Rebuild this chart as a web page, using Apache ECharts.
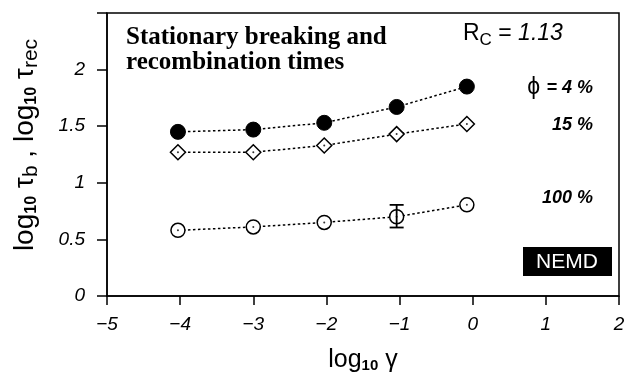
<!DOCTYPE html>
<html><head><meta charset="utf-8">
<script src="https://cdn.jsdelivr.net/npm/echarts@6/dist/echarts.min.js"></script>
<style>html,body{margin:0;padding:0;background:#fff}#c{width:628px;height:372px}</style>
</head><body><div id="c"></div>
<script>
const xVals = [-4.03, -3.0, -2.03, -1.04, -0.08];
const phi4 = [1.45, 1.47, 1.53, 1.67, 1.85];
const phi15 = [1.27, 1.27, 1.33, 1.43, 1.52];
const phi100 = [0.58, 0.61, 0.65, 0.70, 0.805];
const errX = [-1.04];
const errLow = [0.605];
const errHigh = [0.805];
const xTicks = [-5, -4, -3, -2, -1, 0, 1, 2];
const yTicks = [0, 0.5, 1, 1.5, 2];

const pairs = a => xVals.map((x, i) => [x, a[i]]);
const font = 'Liberation Sans, Arial, sans-serif';
const lineStyle = {color: '#000', width: 1.5, type: [2.5, 2.5]};

const chart = echarts.init(document.getElementById('c'), null, {renderer: 'canvas'});
chart.setOption({
  animation: false,
  grid: {left: 107, right: 9, top: 13, bottom: 76, show: true, borderColor: '#000', borderWidth: 1.5,
         containLabel: false, outerBoundsMode: 'none'},
  xAxis: {
    type: 'value', min: -5, max: 2, interval: 1,
    axisLine: {onZero: false, lineStyle: {color: '#000', width: 1.5}},
    axisTick: {length: 9, lineStyle: {color: '#000', width: 1.5}},
    splitLine: {show: false},
    axisLabel: {color: '#000', fontFamily: font, fontStyle: 'italic', fontSize: 19, margin: 19,
      formatter: v => xTicks.includes(v) ? String(v).replace('-', '\u2212') : ''},
    name: 'log{s|10} \u03b3', nameLocation: 'middle', nameGap: 51,
    nameTextStyle: {color: '#000', fontFamily: font, fontSize: 25,
      rich: {s: {fontSize: 15, fontWeight: 'bold', fontFamily: font, padding: [11, 0, 0, 0]}}}
  },
  yAxis: {
    type: 'value', min: 0, max: 2.5, interval: 0.5,
    axisLine: {onZero: false, lineStyle: {color: '#000', width: 1.5}},
    axisTick: {length: 10, lineStyle: {color: '#000', width: 1.5}},
    splitLine: {show: false},
    axisLabel: {color: '#000', fontFamily: font, fontStyle: 'italic', fontSize: 19, margin: 22,
      formatter: v => yTicks.includes(v) ? String(v) : ''}
  },
  graphic: [
    {type: 'text', x: 25, y: 145, rotation: Math.PI / 2,
     style: {text: 'log{s|10} \u03c4{s2|b} , log{s|10} \u03c4{s2|rec}', fill: '#000', fontFamily: font, fontSize: 28,
       align: 'center', verticalAlign: 'middle',
       rich: {s: {fontSize: 16, fontWeight: 'bold', fontFamily: font, padding: [14, 0, 0, 0]},
              s2: {fontSize: 21, fontFamily: font, padding: [12, 0, 0, 0]}}}},
    {type: 'text', x: 126, y: 25,
     style: {text: 'Stationary breaking and\nrecombination times', fill: '#000',
       fontFamily: 'Liberation Serif, serif', fontWeight: 'bold', fontSize: 25, lineHeight: 25}},
    {type: 'text', x: 463, y: 34,
     style: {text: 'R{sub|C} = {it|1.13}', fill: '#000', fontFamily: font, fontSize: 23, verticalAlign: 'middle',
       rich: {sub: {fontSize: 17, fontFamily: font, padding: [13, 0, 0, 0]},
              it: {fontStyle: 'italic', fontSize: 23, fontFamily: font}}}},
    {type: 'text', x: 593, y: 88,
     style: {text: '\u03d5 {b|= 4 %}', fill: '#000', fontFamily: font, fontSize: 23, align: 'right', verticalAlign: 'middle',
       rich: {b: {fontStyle: 'italic', fontWeight: 'bold', fontSize: 18, fontFamily: font}}}},
    {type: 'text', x: 593, y: 125,
     style: {text: '15 %', fill: '#000', fontFamily: font, fontSize: 18, fontStyle: 'italic', fontWeight: 'bold',
       align: 'right', verticalAlign: 'middle'}},
    {type: 'text', x: 593, y: 198,
     style: {text: '100 %', fill: '#000', fontFamily: font, fontSize: 18, fontStyle: 'italic', fontWeight: 'bold',
       align: 'right', verticalAlign: 'middle'}},
    {type: 'rect', shape: {x: 523, y: 247, width: 89, height: 29}, style: {fill: '#000'}},
    {type: 'text', x: 567, y: 262,
     style: {text: 'NEMD', fill: '#fff', fontFamily: font, fontSize: 21, align: 'center', verticalAlign: 'middle'}}
  ],
  series: [
    {type: 'line', data: pairs(phi4), symbol: 'circle', symbolSize: 15, lineStyle,
     itemStyle: {color: '#000', borderColor: '#000'}, z: 3},
    {type: 'line', data: pairs(phi15), symbol: 'diamond', symbolSize: [15, 15], lineStyle,
     itemStyle: {color: '#fff', borderColor: '#000', borderWidth: 1.5}, z: 3},
    {type: 'line', data: pairs(phi100), symbol: 'circle', symbolSize: 14, lineStyle,
     itemStyle: {color: '#fff', borderColor: '#000', borderWidth: 1.5}, z: 3},
    {type: 'scatter', data: pairs(phi15).concat(pairs(phi100)), symbol: 'circle', symbolSize: 2,
     itemStyle: {color: '#000'}, z: 5},
    {type: 'custom', z: 6,
     data: errX.map((x, i) => [x, errLow[i], errHigh[i]]),
     renderItem: (params, api) => {
       const lo = api.coord([api.value(0), api.value(1)]);
       const hi = api.coord([api.value(0), api.value(2)]);
       const w = 7;
       const st = {stroke: '#000', lineWidth: 1.8};
       return {type: 'group', children: [
         {type: 'line', shape: {x1: lo[0], y1: lo[1], x2: hi[0], y2: hi[1]}, style: st},
         {type: 'line', shape: {x1: lo[0] - w, y1: lo[1], x2: lo[0] + w, y2: lo[1]}, style: st},
         {type: 'line', shape: {x1: hi[0] - w, y1: hi[1], x2: hi[0] + w, y2: hi[1]}, style: st}
       ]};
     }}
  ]
});
</script></body></html>
